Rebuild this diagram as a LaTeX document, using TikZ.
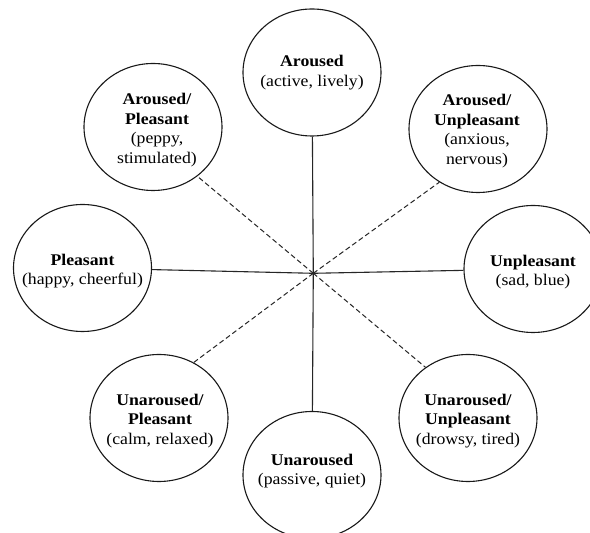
\documentclass[tikz,border=0pt]{standalone}
\usepackage{fontspec}
\setmainfont{Liberation Serif}[FakeStretch=1.087]
\usetikzlibrary{shapes.geometric}
\begin{document}
\begin{tikzpicture}[x=1pt,y=1pt,
  emo/.style={draw=black!90, ellipse, minimum width=138pt, minimum height=127pt, inner sep=0pt, line width=1.1pt},
  lbl/.style={align=center, font=\fontsize{16.3}{19.7}\selectfont, inner sep=0pt},
  axisline/.style={draw=black!85, line width=1.1pt},
  diagline/.style={draw=black!85, line width=1pt, dash pattern=on 5pt off 3pt}]
\useasboundingbox (0,0) rectangle (590,533);
\fill[white] (0,0) rectangle (590,533);
% ellipses
\node[emo] (ar)  at (312,460.5) {};
\node[emo] (ap)  at (153,406) {};
\node[emo] (au)  at (478,404) {};
\node[emo] (pl)  at (82.5,265) {};
\node[emo] (un)  at (533,264) {};
\node[emo] (up)  at (159,115) {};
\node[emo] (uu)  at (468,115) {};
\node[emo] (una) at (312,58) {};
\coordinate (c) at (313.3,259.7);
% labels
\node[lbl] (tar)  at (ar.center)  {\textbf{Aroused}\\(active, lively)};
\node[lbl] (tap)  at ([xshift=4pt,yshift=-3pt]ap.center)  {\textbf{Aroused/}\\\textbf{Pleasant}\\(peppy,\\stimulated)};
\node[lbl] (tau)  at ([xshift=-1pt,yshift=-2pt]au.center)  {\textbf{Aroused/}\\\textbf{Unpleasant}\\(anxious,\\nervous)};
\node[lbl] (tpl)  at ([yshift=-3pt]pl.center)  {\textbf{Pleasant}\\(happy, cheerful)};
\node[lbl] (tun)  at ([yshift=-3pt]un.center)  {\textbf{Unpleasant}\\(sad, blue)};
\node[lbl] (tup)  at ([xshift=1pt,yshift=-3pt]up.center)  {\textbf{Unaroused/}\\\textbf{Pleasant}\\(calm, relaxed)};
\node[lbl] (tuu)  at ([yshift=-3pt]uu.center)  {\textbf{Unaroused/}\\\textbf{Unpleasant}\\(drowsy, tired)};
\node[lbl] (tuna) at ([yshift=4pt]una.center) {\textbf{Unaroused}\\(passive, quiet)};
% connectors
\draw[axisline] (c) -- (ar);
\draw[axisline] (c) -- (una);
\draw[axisline] (c) -- (pl);
\draw[axisline] (c) -- (un);
\draw[diagline] (c) -- (ap.-48);
\draw[diagline] (c) -- (au.-126);
\draw[diagline] (c) -- (up.58);
\draw[diagline] (c) -- (uu.130);
\end{tikzpicture}
\end{document}
